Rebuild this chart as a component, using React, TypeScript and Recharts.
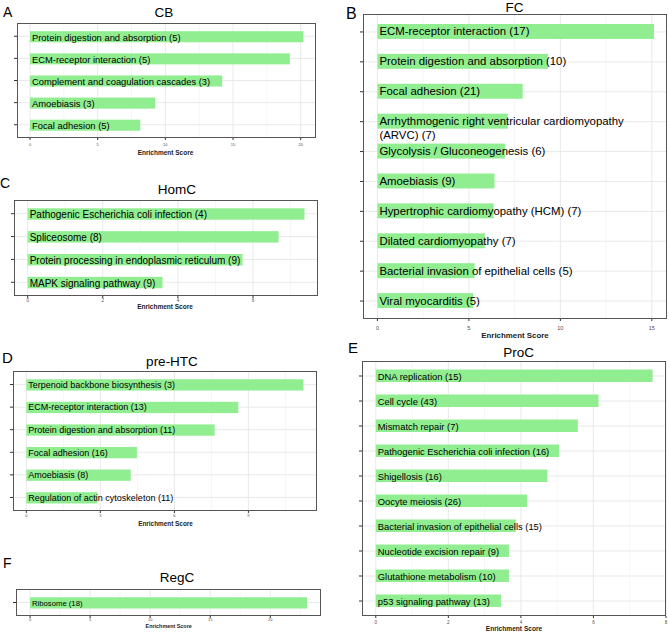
import React from 'react';
import { BarChart, Bar, XAxis, YAxis, CartesianGrid } from 'recharts';

const FONT = '"Liberation Sans", Arial, Helvetica, sans-serif';
const BAR_COLOR = '#90EE90';

// ---- data ----
const cbPathways = [
  'Protein digestion and absorption (5)',
  'ECM-receptor interaction (5)',
  'Complement and coagulation cascades (3)',
  'Amoebiasis (3)',
  'Focal adhesion (5)',
];
const cbScores = [20.2, 19.2, 14.2, 9.25, 8.15];
const cbTicks = [0, 5, 10, 15, 20];
const cbMinor = [2.5, 7.5, 12.5, 17.5];

const fcPathways = [
  'ECM-receptor interaction (17)',
  'Protein digestion and absorption (10)',
  'Focal adhesion (21)',
  'Arrhythmogenic right ventricular cardiomyopathy\n(ARVC) (7)',
  'Glycolysis / Gluconeogenesis (6)',
  'Amoebiasis (9)',
  'Hypertrophic cardiomyopathy (HCM) (7)',
  'Dilated cardiomyopathy (7)',
  'Bacterial invasion of epithelial cells (5)',
  'Viral myocarditis (5)',
];
const fcScores = [15.12, 9.32, 7.94, 7.13, 6.97, 6.4, 6.35, 5.87, 5.31, 5.23];
const fcTicks = [0, 5, 10, 15];
const fcMinor = [2.5, 7.5, 12.5];

const homPathways = [
  'Pathogenic Escherichia coli infection (4)',
  'Spliceosome (8)',
  'Protein processing in endoplasmic reticulum (9)',
  'MAPK signaling pathway (9)',
];
const homScores = [7.37, 6.68, 5.72, 3.59];
const homTicks = [0, 2, 4, 6];
const homMinor = [1, 3, 5, 7];

const htcPathways = [
  'Terpenoid backbone biosynthesis (3)',
  'ECM-receptor interaction (13)',
  'Protein digestion and absorption (11)',
  'Focal adhesion (16)',
  'Amoebiasis (8)',
  'Regulation of actin cytoskeleton (11)',
];
const htcScores = [11.23, 8.59, 7.63, 4.48, 4.23, 2.88];
const htcTicks = [0, 3, 6, 9];
const htcMinor = [1.5, 4.5, 7.5, 10.5];

const proPathways = [
  'DNA replication (15)',
  'Cell cycle (43)',
  'Mismatch repair (7)',
  'Pathogenic Escherichia coli infection (16)',
  'Shigellosis (16)',
  'Oocyte meiosis (26)',
  'Bacterial invasion of epithelial cells (15)',
  'Nucleotide excision repair (9)',
  'Glutathione metabolism (10)',
  'p53 signaling pathway (13)',
];
const proScores = [7.63, 6.14, 5.57, 5.05, 4.73, 4.17, 3.86, 3.67, 3.67, 3.45];
const proTicks = [0, 2, 4, 6, 8];
const proMinor = [1, 3, 5, 7];

const regPathways = ['Ribosome (18)'];
const regScores = [23.06];
const regTicks = [0, 5, 10, 15, 20];
const regMinor = [2.5, 7.5, 12.5, 17.5, 22.5];

type PanelProps = {
  names: string[];
  scores: number[];
  ticks: number[];
  minor: number[];
  domain: [number, number];
  box: [number, number, number, number]; // left, top, right, bottom of panel border
  letter: string;
  letterAt: [number, number];
  letterSize: number;
  title: string;
  titleAt: [number, number];
  axisAt: [number, number];
  axisSize: number;
  labelSize: number;
  tickFont: number;
  tickGap: number;
};

const noTickText = () => <g />;

const Panel: React.FC<PanelProps> = (p) => {
  const [l, t, r, b] = p.box;
  const plotW = r - l;
  const plotH = b - t;
  const n = p.names.length;
  const step = plotH / (n + 0.2);
  const pad = 0.1 * step;
  const data = p.names.map((name, i) => ({ name, score: p.scores[i] }));
  const YW = 5;
  const MT = 2;
  const MR = 8;
  const XH = 16;

  const shape = (s: any) => {
    const name: string = (s.payload && s.payload.name) || s.name || '';
    const lines = name.split('\n');
    const cy = s.y + s.height / 2;
    return (
      <g>
        <rect x={s.x} y={s.y} width={s.width} height={s.height} fill={BAR_COLOR} />
        <text x={s.x + 2} y={cy} fontSize={p.labelSize} fontFamily={FONT} fill="#000" dominantBaseline="central">
          {lines.map((ln, i) => (
            <tspan key={i} x={s.x + 2} dy={i === 0 ? 0 : p.labelSize * 1.17}>
              {ln}
            </tspan>
          ))}
        </text>
      </g>
    );
  };

  return (
    <>
      <div
        style={{
          position: 'absolute',
          left: p.letterAt[0],
          top: p.letterAt[1],
          transform: 'translateY(-50%)',
          fontSize: p.letterSize,
          fontFamily: FONT,
          lineHeight: 1,
        }}
      >
        {p.letter}
      </div>
      <div
        style={{
          position: 'absolute',
          left: p.titleAt[0],
          top: p.titleAt[1],
          transform: 'translate(-50%, -50%)',
          fontSize: 13.5,
          fontFamily: FONT,
          lineHeight: 1,
          whiteSpace: 'nowrap',
        }}
      >
        {p.title}
      </div>
      <div style={{ position: 'absolute', left: l - YW, top: t - MT }}>
        <BarChart
          width={plotW + YW + MR}
          height={plotH + MT + XH}
          data={data}
          layout="vertical"
          margin={{ top: MT, right: MR, bottom: 0, left: 0 }}
          barCategoryGap={0}
        >
          <CartesianGrid horizontal={false} verticalValues={p.minor} stroke="#f2f2f2" strokeWidth={0.7} />
          <CartesianGrid
            verticalValues={p.ticks}
            horizontalValues={p.names}
            stroke="#e6e6e6"
            strokeWidth={0.9}
          />
          <XAxis
            type="number"
            domain={p.domain}
            ticks={p.ticks}
            interval={0}
            allowDataOverflow
            axisLine={false}
            tickSize={2}
            tickMargin={p.tickGap}
            tickLine={{ stroke: '#333' }}
            tick={{ fontSize: p.tickFont, fill: '#4d4d4d', fontFamily: FONT }}
            height={XH}
          />
          <YAxis
            type="category"
            dataKey="name"
            width={YW}
            interval={0}
            tick={noTickText}
            tickSize={3}
            axisLine={false}
            tickLine={{ stroke: '#333' }}
            padding={{ top: pad, bottom: pad }}
          />
          <Bar dataKey="score" fill={BAR_COLOR} barSize={step * 0.5} isAnimationActive={false} shape={shape} />
        </BarChart>
      </div>
      <div
        style={{
          position: 'absolute',
          left: l,
          top: t,
          width: plotW,
          height: plotH,
          border: '1px solid #555',
          boxSizing: 'border-box',
          pointerEvents: 'none',
        }}
      />
      <div
        style={{
          position: 'absolute',
          left: p.axisAt[0],
          top: p.axisAt[1],
          transform: 'translate(-50%, -50%)',
          fontSize: p.axisSize,
          fontWeight: 'bold',
          fontFamily: FONT,
          lineHeight: 1,
          whiteSpace: 'nowrap',
          color: '#222',
        }}
      >
        Enrichment Score
      </div>
    </>
  );
};

export default function App() {
  return (
    <div
      style={{
        position: 'absolute',
        left: 0,
        top: 0,
        width: 669,
        height: 633,
        background: '#fff',
        overflow: 'hidden',
      }}
    >
      <Panel
        names={cbPathways}
        scores={cbScores}
        ticks={cbTicks}
        minor={cbMinor}
        domain={[-0.96, 21.13]}
        box={[17, 23, 316, 138]}
        letter="A"
        letterAt={[3, 12]}
        letterSize={14}
        title="CB"
        titleAt={[164, 13]}
        axisAt={[165.5, 153]}
        axisSize={6.5}
        labelSize={9.4}
        tickFont={4}
        tickGap={3.4}
      />
      <Panel
        names={fcPathways}
        scores={fcScores}
        ticks={fcTicks}
        minor={fcMinor}
        domain={[-0.79, 15.83]}
        box={[363, 14, 667, 319]}
        letter="B"
        letterAt={[346, 14]}
        letterSize={16}
        title="FC"
        titleAt={[514.5, 8]}
        axisAt={[515, 336]}
        axisSize={7.9}
        labelSize={11.4}
        tickFont={5.5}
        tickGap={5}
      />
      <Panel
        names={homPathways}
        scores={homScores}
        ticks={homTicks}
        minor={homMinor}
        domain={[-0.364, 7.73]}
        box={[14, 200, 318, 296]}
        letter="C"
        letterAt={[0, 183]}
        letterSize={14}
        title="HomC"
        titleAt={[177, 190]}
        axisAt={[165, 307]}
        axisSize={6.5}
        labelSize={10}
        tickFont={4.5}
        tickGap={0.7}
      />
      <Panel
        names={htcPathways}
        scores={htcScores}
        ticks={htcTicks}
        minor={htcMinor}
        domain={[-0.54, 11.78]}
        box={[13, 371, 317, 511]}
        letter="D"
        letterAt={[2, 357]}
        letterSize={15}
        title="pre-HTC"
        titleAt={[172, 362]}
        axisAt={[165.5, 523.5]}
        axisSize={6.4}
        labelSize={9}
        tickFont={4}
        tickGap={1.1}
      />
      <Panel
        names={proPathways}
        scores={proScores}
        ticks={proTicks}
        minor={proMinor}
        domain={[-0.38, 8.0]}
        box={[362, 361, 666, 616]}
        letter="E"
        letterAt={[348, 347]}
        letterSize={15}
        title="ProC"
        titleAt={[518.7, 353]}
        axisAt={[514, 629]}
        axisSize={6.6}
        labelSize={9.4}
        tickFont={4.5}
        tickGap={2.7}
      />
      <Panel
        names={regPathways}
        scores={regScores}
        ticks={regTicks}
        minor={regMinor}
        domain={[-1.17, 24.22]}
        box={[16, 589, 321, 616]}
        letter="F"
        letterAt={[3, 563]}
        letterSize={14}
        title="RegC"
        titleAt={[177, 578]}
        axisAt={[168.7, 626.7]}
        axisSize={5.4}
        labelSize={7.7}
        tickFont={4}
        tickGap={0.4}
      />
    </div>
  );
}
